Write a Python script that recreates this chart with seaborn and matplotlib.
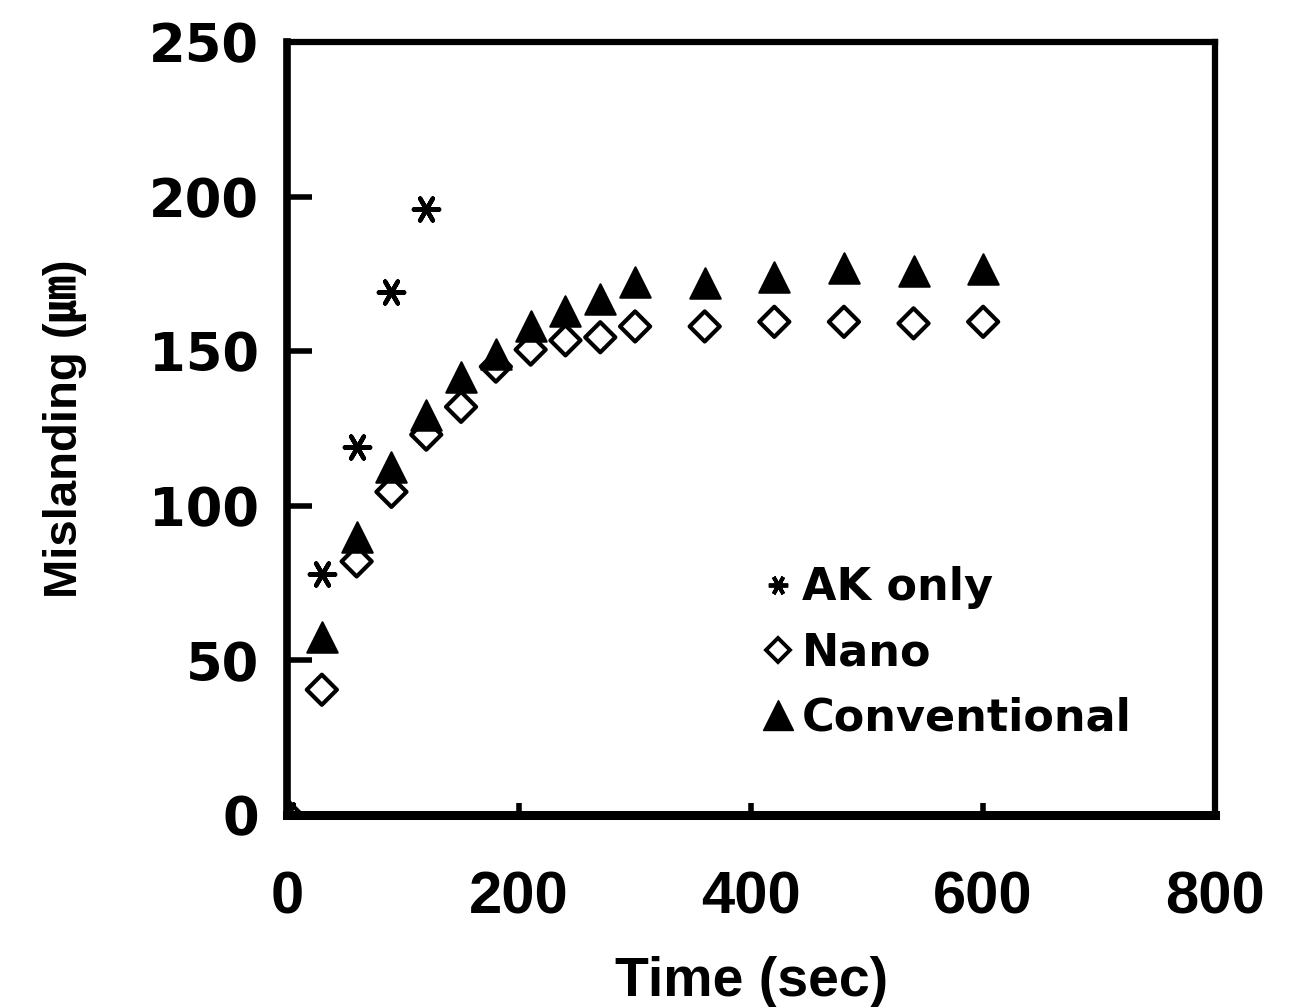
import matplotlib
matplotlib.use("Agg")
import matplotlib.pyplot as plt
import seaborn as sns
import pandas as pd
from matplotlib.lines import Line2D

sns.set_theme(style="white")
plt.rcParams['font.family'] = ['DejaVu Sans', 'Noto Sans CJK KR']
plt.rcParams['text.color'] = 'black'

# ---- data ----
ak_time = [0, 30, 60, 90, 120]
ak_vals = [0, 78, 119, 169, 196]

nano_time = [0, 30, 60, 90, 120, 150, 180, 210, 240, 270, 300, 360, 420, 480, 540, 600]
nano_vals = [0, 40.5, 82, 104.5, 123, 132, 145, 150.5, 153.5, 154.5, 158, 158, 159.5, 159.5, 159, 159.5]

conv_time = [0, 30, 60, 90, 120, 150, 180, 210, 240, 270, 300, 360, 420, 480, 540, 600]
conv_vals = [0, 57.5, 90, 112.5, 129.5, 141.5, 149, 158, 163, 167, 172.5, 172, 174, 177, 176, 176.5]

series_names = ["AK only", "Nano", "Conventional"]
x_ticks = [0, 200, 400, 600, 800]
y_ticks = [0, 50, 100, 150, 200, 250]

fig = plt.figure(figsize=(12.9, 10.07), dpi=100)
ax = fig.add_axes([0.2225, 0.1907, 0.7195, 0.7676])

df_ak = pd.DataFrame({"t": ak_time, "v": ak_vals})
df_nano = pd.DataFrame({"t": nano_time, "v": nano_vals})
df_conv = pd.DataFrame({"t": conv_time, "v": conv_vals})

sns.scatterplot(data=df_conv, x="t", y="v", ax=ax, marker="^", s=480,
                color="black", edgecolor="black", linewidth=1.5, zorder=3)
sns.scatterplot(data=df_nano, x="t", y="v", ax=ax, marker="D", s=235,
                facecolor="none", edgecolor="black", linewidth=3.0, zorder=4)
sns.scatterplot(data=df_ak, x="t", y="v", ax=ax, marker=(6, 2, 90), s=330,
                color="black", linewidth=3.2, zorder=5)

ax.set_xlim(0, 800)
ax.set_ylim(0, 250)
ax.set_xticks(x_ticks)
ax.set_yticks(y_ticks)
ax.set_xticklabels([str(v) for v in x_ticks], fontfamily="Liberation Sans",
                   fontweight="bold", fontsize=43)
ax.set_yticklabels([str(v) for v in y_ticks], fontfamily="DejaVu Sans",
                   fontweight="bold", fontsize=38)

ax.tick_params(axis="y", direction="in", length=18, width=4, pad=20, colors="black", left=True)
ax.tick_params(axis="x", direction="in", length=9, width=4, pad=40, colors="black", bottom=True)

for side, lw in [("left", 5.5), ("bottom", 6.5), ("top", 4.5), ("right", 4.5)]:
    ax.spines[side].set_visible(True)
    ax.spines[side].set_color("black")
    ax.spines[side].set_linewidth(lw)

ax.set_xlabel("Time (sec)", fontfamily="Liberation Sans", fontweight="bold",
              fontsize=40, labelpad=22, color="black")
ax.set_ylabel("Mislanding (㎛)", fontfamily=["Liberation Sans", "Noto Sans CJK KR"],
              fontweight="bold", fontsize=34, labelpad=45, color="black")

handles = [
    Line2D([], [], marker=(6, 2, 90), color="black", linestyle="none", markersize=14, markeredgewidth=2.8),
    Line2D([], [], marker="D", markerfacecolor="none", markeredgecolor="black", linestyle="none",
           markersize=12, markeredgewidth=2.8),
    Line2D([], [], marker="^", color="black", linestyle="none", markersize=22),
]
leg = ax.legend(handles, series_names, loc="upper left", bbox_to_anchor=(0.495, 0.345),
                frameon=False, handlelength=0.6, handletextpad=0.25, labelspacing=0.5,
                borderaxespad=0, prop={"family": "DejaVu Sans", "weight": "bold", "size": 32})
for t in leg.get_texts():
    t.set_color("black")

fig.savefig("out.png", dpi=100, facecolor="white")
